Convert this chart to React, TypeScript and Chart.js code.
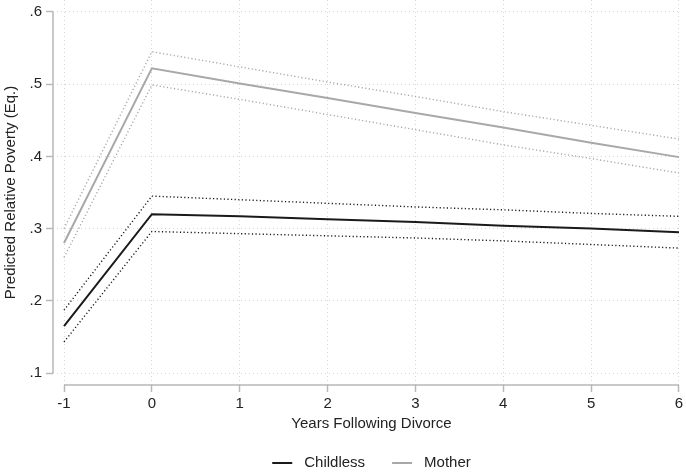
import React, { useEffect, useRef } from 'react';
import { Chart, registerables } from 'chart.js';

Chart.register(...registerables);

// ---- data ----
const years = [-1, 0, 1, 2, 3, 4, 5, 6];
const childless = [0.165, 0.320, 0.317, 0.313, 0.309, 0.304, 0.300, 0.295];
const childlessUpper = [0.187, 0.345, 0.340, 0.335, 0.330, 0.326, 0.321, 0.317];
const childlessLower = [0.143, 0.296, 0.293, 0.290, 0.287, 0.283, 0.278, 0.273];
const mother = [0.280, 0.522, 0.501, 0.481, 0.460, 0.440, 0.419, 0.399];
const motherUpper = [0.300, 0.545, 0.524, 0.503, 0.483, 0.462, 0.443, 0.424];
const motherLower = [0.260, 0.499, 0.479, 0.458, 0.437, 0.416, 0.397, 0.377];
const yTicks = [0.1, 0.2, 0.3, 0.4, 0.5, 0.6];
const yTickLabels = ['.1', '.2', '.3', '.4', '.5', '.6'];
const xTicks = [-1, 0, 1, 2, 3, 4, 5, 6];
const xTitle = 'Years Following Divorce';
const yTitle = 'Predicted Relative Poverty (Eq.)';
const seriesNames = ['Childless', 'Mother'];

const FONT = "'Liberation Sans', Arial, Helvetica, sans-serif";
const FS = 15;
const TEXT = '#222222';
const BLACK = '#1a1a1a';
const GRAY = '#a8a8a8';
const AXIS = '#b8b8b8';
const GRID = '#d6d6d6';

const pts = (ys: number[]) => years.map((x, i) => ({ x, y: ys[i] }));

export default function App() {
  const ref = useRef<HTMLCanvasElement | null>(null);

  useEffect(() => {
    if (!ref.current) return;

    const decor = {
      id: 'decor',
      afterDraw(chart: any) {
        const ctx = chart.ctx;
        const xs = chart.scales.x;
        const ys = chart.scales.y;
        ctx.save();
        ctx.strokeStyle = AXIS;
        ctx.lineWidth = 1.5;
        ctx.setLineDash([]);
        ctx.beginPath();
        const ax = chart.chartArea.left;
        ctx.moveTo(ax, ys.getPixelForValue(yTicks[0]));
        ctx.lineTo(ax, ys.getPixelForValue(yTicks[yTicks.length - 1]));
        const by = chart.chartArea.bottom;
        ctx.moveTo(xs.getPixelForValue(xTicks[0]), by);
        ctx.lineTo(xs.getPixelForValue(xTicks[xTicks.length - 1]), by);
        ctx.stroke();

        const cx = (xs.getPixelForValue(xTicks[0]) + xs.getPixelForValue(xTicks[xTicks.length - 1])) / 2;
        ctx.fillStyle = TEXT;
        ctx.font = `${FS}px ${FONT}`;
        ctx.textAlign = 'center';
        ctx.textBaseline = 'middle';
        ctx.fillText(xTitle, cx, 424);

        const lineLen = 20;
        const gapText = 12;
        const gapItem = 27;
        const w0 = ctx.measureText(seriesNames[0]).width;
        const w1 = ctx.measureText(seriesNames[1]).width;
        const total = lineLen + gapText + w0 + gapItem + lineLen + gapText + w1;
        let lx = cx - total / 2;
        const ly = 463;
        const colors = [BLACK, GRAY];
        const widths = [w0, w1];
        ctx.textAlign = 'left';
        for (let i = 0; i < 2; i++) {
          ctx.strokeStyle = colors[i];
          ctx.lineWidth = 2;
          ctx.beginPath();
          ctx.moveTo(lx, ly);
          ctx.lineTo(lx + lineLen, ly);
          ctx.stroke();
          lx += lineLen + gapText;
          ctx.fillStyle = TEXT;
          ctx.fillText(seriesNames[i], lx, ly);
          lx += widths[i] + gapItem;
        }
        ctx.restore();
      },
    };

    const ciStyle = (color: string) => ({
      borderColor: color,
      borderWidth: 1.4,
      borderDash: [1.2, 2.4],
      pointRadius: 0,
      fill: false,
      tension: 0,
    });

    const gridOpts = {
      color: GRID,
      lineWidth: 1,
      drawTicks: true,
      tickLength: 7,
      tickColor: AXIS,
      tickWidth: 1.5,
      tickBorderDash: [],
    };

    const chart = new Chart(ref.current, {
      type: 'line',
      data: {
        datasets: [
          { label: seriesNames[0], data: pts(childless), borderColor: BLACK, borderWidth: 2, pointRadius: 0, tension: 0, fill: false },
          { label: seriesNames[1], data: pts(mother), borderColor: GRAY, borderWidth: 2, pointRadius: 0, tension: 0, fill: false },
          { label: 'Childless upper', data: pts(childlessUpper), ...ciStyle(BLACK) },
          { label: 'Childless lower', data: pts(childlessLower), ...ciStyle(BLACK) },
          { label: 'Mother upper', data: pts(motherUpper), ...ciStyle(GRAY) },
          { label: 'Mother lower', data: pts(motherLower), ...ciStyle(GRAY) },
        ] as any,
      },
      options: {
        animation: false,
        responsive: false,
        maintainAspectRatio: false,
        layout: { padding: { left: 0, right: 5, top: 0, bottom: 0 } },
        plugins: { legend: { display: false }, tooltip: { enabled: false }, title: { display: false } },
        scales: {
          x: {
            type: 'linear',
            min: -1 - 11 / 87.857,
            max: 6 + 2 / 87.857,
            afterBuildTicks: (axis: any) => {
              axis.ticks = xTicks.map((v) => ({ value: v }));
            },
            afterFit: (scale: any) => {
              scale.height = 91;
              scale.paddingLeft = 0;
              scale.paddingRight = 0;
            },
            ticks: {
              color: TEXT,
              font: { family: FONT, size: FS },
              padding: 3,
              maxRotation: 0,
              autoSkip: false,
              callback: (v: any) => String(v),
            },
            grid: gridOpts as any,
            border: { display: false, dash: [1, 3] },
          },
          y: {
            type: 'linear',
            min: 0.1 - 12 / 722,
            max: 0.6 + 12 / 722,
            afterBuildTicks: (axis: any) => {
              axis.ticks = yTicks.map((v) => ({ value: v }));
            },
            afterFit: (scale: any) => {
              scale.width = 53;
              scale.paddingTop = 0;
              scale.paddingBottom = 0;
            },
            ticks: {
              color: TEXT,
              font: { family: FONT, size: FS },
              padding: 4,
              autoSkip: false,
              callback: (v: any) => {
                const i = yTicks.findIndex((t) => Math.abs(t - v) < 1e-9);
                return i >= 0 ? yTickLabels[i] : '';
              },
            },
            title: {
              display: true,
              text: yTitle,
              color: TEXT,
              font: { family: FONT, size: FS },
              padding: { top: 2, bottom: 0 },
            },
            grid: gridOpts as any,
            border: { display: false, dash: [1, 3] },
          },
        },
      } as any,
      plugins: [decor],
    });

    return () => chart.destroy();
  }, []);

  return (
    <div style={{ position: 'absolute', left: 0, top: 0, width: 686, height: 476, background: '#ffffff' }}>
      <canvas ref={ref} width={686} height={476} style={{ display: 'block' }} />
    </div>
  );
}
